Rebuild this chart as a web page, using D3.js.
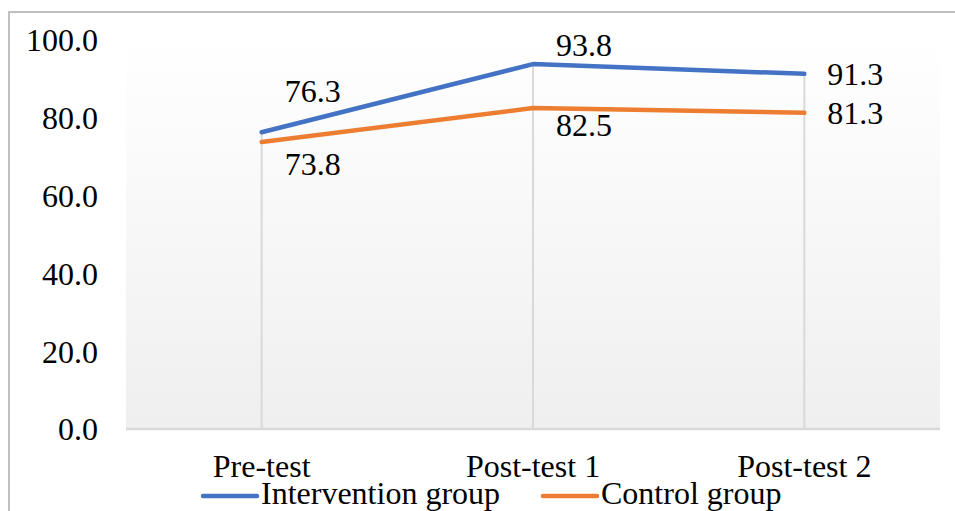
<!DOCTYPE html>
<html>
<head>
<meta charset="utf-8">
<script src="https://cdn.jsdelivr.net/npm/d3@7"></script>
<style>
  body { margin: 0; background: #fff; }
</style>
</head>
<body>
<div id="chart"></div>
<script>
// Data
const categories = ["Pre-test", "Post-test 1", "Post-test 2"];
const intervention = [76.3, 93.8, 91.3];
const control = [73.8, 82.5, 81.3];
const seriesNames = ["Intervention group", "Control group"];
const yTicks = [0, 20, 40, 60, 80, 100];

const W = 955, H = 511;
const plot = {left: 126, right: 940, top: 40, bottom: 429};
const FONT = "Liberation Serif";
const FS = 32;

const svg = d3.select("#chart").append("svg")
    .attr("width", W)
    .attr("height", H)
    .style("display", "block");

// outer frame
svg.append("rect")
   .attr("x", 9).attr("y", 12)
   .attr("width", W + 20).attr("height", H + 20)
   .attr("fill", "none")
   .attr("stroke", "#bfbfbf")
   .attr("stroke-width", 2);

// background gradient
const grad = svg.append("defs").append("linearGradient")
    .attr("id", "bg").attr("x1", 0).attr("y1", 0).attr("x2", 0).attr("y2", 1);
grad.append("stop").attr("offset", "0%").attr("stop-color", "#ffffff");
grad.append("stop").attr("offset", "100%").attr("stop-color", "#efefef");

svg.append("rect")
   .attr("x", plot.left).attr("y", plot.top)
   .attr("width", plot.right - plot.left).attr("height", plot.bottom - plot.top)
   .attr("fill", "url(#bg)");

// scales
const x = d3.scaleBand().domain(categories).range([plot.left, plot.right]);
const cx = d => x(d) + x.bandwidth() / 2;
const y = d3.scaleLinear().domain([0, 100]).range([plot.bottom, plot.top]);

// y tick labels
const yAxis = svg.append("g")
   .attr("transform", `translate(${plot.left - 28},0)`)
   .call(d3.axisLeft(y).tickValues(yTicks).tickFormat(d3.format(".1f")).tickSize(0).tickPadding(0));
yAxis.attr("font-family", FONT).attr("font-size", FS);
yAxis.select(".domain").remove();
yAxis.selectAll("text")
     .attr("fill", "#000")
     .attr("dy", "0.34em");

// drop lines (from highest point down to baseline)
svg.selectAll("line.drop")
   .data(categories)
   .enter().append("line")
   .attr("class", "drop")
   .attr("x1", d => cx(d)).attr("x2", d => cx(d))
   .attr("y1", (d, i) => y(Math.max(intervention[i], control[i])))
   .attr("y2", plot.bottom)
   .attr("stroke", "#d9d9d9")
   .attr("stroke-width", 2);

// baseline
svg.append("line")
   .attr("x1", plot.left).attr("x2", plot.right)
   .attr("y1", plot.bottom).attr("y2", plot.bottom)
   .attr("stroke", "#d9d9d9")
   .attr("stroke-width", 2.5);

// x category labels
const xAxis = svg.append("g")
   .attr("transform", `translate(0,${plot.bottom})`)
   .call(d3.axisBottom(x).tickSize(0).tickPadding(0));
xAxis.attr("font-family", FONT).attr("font-size", FS);
xAxis.select(".domain").remove();
xAxis.selectAll("text")
     .attr("fill", "#000")
     .attr("y", 48)
     .attr("dy", 0);

// lines
const series = [
  {name: seriesNames[0], values: intervention, color: "#4472C4", dy: [-30, -8, 11]},
  {name: seriesNames[1], values: control, color: "#ED7D31", dy: [33, 28, 11]}
];

const line = d3.line()
    .x((d, i) => cx(categories[i]))
    .y(d => y(d));

series.forEach(s => {
  svg.append("path")
     .datum(s.values)
     .attr("d", line)
     .attr("fill", "none")
     .attr("stroke", s.color)
     .attr("stroke-width", 4.5)
     .attr("stroke-linecap", "round")
     .attr("stroke-linejoin", "round");

  svg.selectAll(null)
     .data(s.values)
     .enter().append("text")
     .attr("x", (d, i) => cx(categories[i]) + 23)
     .attr("y", (d, i) => y(d) + s.dy[i])
     .attr("font-family", FONT)
     .attr("font-size", FS)
     .text(d => d.toFixed(1));
});

// legend
const legendX = [203, 543];
const legend = svg.selectAll("g.legend")
   .data(series)
   .enter().append("g")
   .attr("class", "legend")
   .attr("transform", (d, i) => `translate(${legendX[i]}, 496)`);

legend.append("line")
      .attr("x1", 0).attr("x2", 54)
      .attr("stroke", d => d.color)
      .attr("stroke-width", 4.5)
      .attr("stroke-linecap", "round");

legend.append("text")
      .attr("x", 58)
      .attr("y", 8)
      .attr("font-family", FONT)
      .attr("font-size", FS)
      .text(d => d.name);
</script>
</body>
</html>
